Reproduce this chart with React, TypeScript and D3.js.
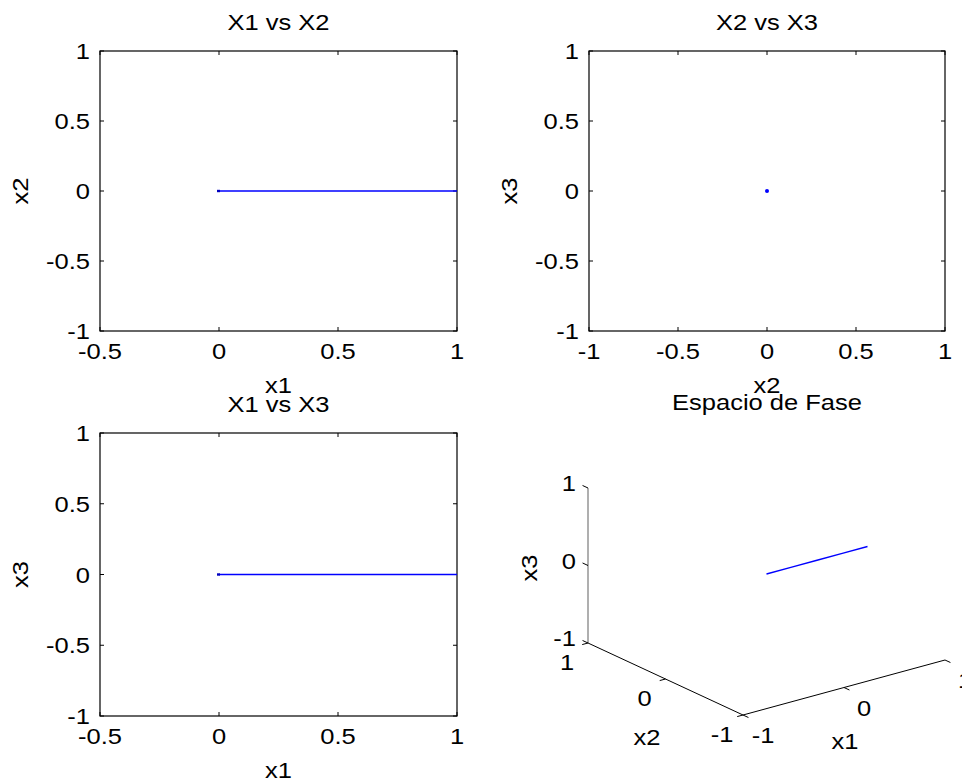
import React from "react";
import * as d3 from "d3";

// ---- data ----
const x1Values = [0, 0.25, 0.5, 0.75, 1];
const x2Values = [0, 0, 0, 0, 0];
const x3Values = [0, 0, 0, 0, 0];

const ticksX1 = [-0.5, 0, 0.5, 1];
const ticksX2 = [-1, -0.5, 0, 0.5, 1];
const ticksY = [-1, -0.5, 0, 0.5, 1];
const ticks3D = [-1, 0, 1];

const titles = ["X1 vs X2", "X2 vs X3", "X1 vs X3", "Espacio de Fase"];

const BLUE = "#0000ff";
const FONT = "'Liberation Sans', Arial, sans-serif";
const FS = 22;
const SX = 1.16;

function T({ x, y, anchor = "middle", rotate = 0, children }: any) {
  return (
    <g transform={`translate(${x},${y}) rotate(${rotate}) scale(${SX},1)`}>
      <text textAnchor={anchor} fontFamily={FONT} fontSize={FS} fill="#000">
        {children}
      </text>
    </g>
  );
}

function Plot2D({ box, xDomain, yDomain, xTicks, yTicks, title, xlabel, ylabel, xs, ys, dot }: any) {
  const [l, t, r, b] = box;
  const x = d3.scaleLinear().domain(xDomain).range([l, r]);
  const y = d3.scaleLinear().domain(yDomain).range([b, t]);
  const line = d3.line<number>().x((_, i) => x(xs[i])).y((_, i) => y(ys[i]));
  const tl = 4;
  return (
    <g>
      <rect x={l} y={t} width={r - l} height={b - t} fill="#fff" stroke="#000" strokeWidth={1.2} />
      {xTicks.map((v: number) => (
        <g key={"x" + v}>
          <line x1={x(v)} x2={x(v)} y1={b} y2={b - tl} stroke="#000" />
          <line x1={x(v)} x2={x(v)} y1={t} y2={t + tl} stroke="#000" />
          <T x={x(v)} y={b + 28}>{String(v)}</T>
        </g>
      ))}
      {yTicks.map((v: number) => (
        <g key={"y" + v}>
          <line x1={l} x2={l + tl} y1={y(v)} y2={y(v)} stroke="#000" />
          <line x1={r} x2={r - tl} y1={y(v)} y2={y(v)} stroke="#000" />
          <T x={l - 10} y={y(v) + 8} anchor="end">{String(v)}</T>
        </g>
      ))}
      {dot ? (
        <circle cx={x(xs[0])} cy={y(ys[0])} r={2} fill={BLUE} />
      ) : (
        <g>
          <path d={line(xs) || ""} fill="none" stroke={BLUE} strokeWidth={1.3} />
          <rect x={x(xs[0]) - 2} y={y(ys[0]) - 1.2} width={3} height={2.4} fill="#0000c0" />
        </g>
      )}
      <T x={(l + r) / 2} y={t - 21}>{title}</T>
      <T x={(l + r) / 2} y={b + 62}>{xlabel}</T>
      <T x={l - 72} y={(t + b) / 2} rotate={-90}>{ylabel}</T>
    </g>
  );
}

function Plot3D() {
  const origin = [743, 715];
  const v1 = [202, -55];
  const v2 = [-155, -72];
  const v3 = [0, -155];
  const s = d3.scaleLinear().domain([-1, 1]).range([0, 1]);
  const P = (a: number, bb: number, c: number) => [
    origin[0] + s(a) * v1[0] + s(bb) * v2[0] + s(c) * v3[0],
    origin[1] + s(a) * v1[1] + s(bb) * v2[1] + s(c) * v3[1],
  ];
  const norm = (v: number[], L: number) => {
    const n = Math.hypot(v[0], v[1]);
    return [(v[0] / n) * L, (v[1] / n) * L];
  };
  const tz = norm(v2, 6);
  const t2 = norm([-v1[0], -v1[1]], 6);
  const t1 = norm([-v2[0], -v2[1]], 6);
  const zA = P(-1, 1, -1), zB = P(-1, 1, 1);
  const aA = P(-1, -1, -1), aB = P(1, -1, -1);
  const bA = P(-1, -1, -1), bB = P(-1, 1, -1);
  const pts = x1Values.map((v, i) => P(v, x2Values[i], x3Values[i]));
  const path = d3.line()(pts as any) || "";
  return (
    <g>
      <line x1={zA[0]} y1={zA[1]} x2={zB[0]} y2={zB[1]} stroke="#7a7a7a" strokeWidth={1.2} />
      <line x1={aA[0]} y1={aA[1]} x2={aB[0]} y2={aB[1]} stroke="#000" strokeWidth={1} />
      <line x1={bA[0]} y1={bA[1]} x2={bB[0]} y2={bB[1]} stroke="#000" strokeWidth={1} />
      {ticks3D.map((v) => {
        const pz = P(-1, 1, v);
        const p1 = P(v, -1, -1);
        const p2 = P(-1, v, -1);
        return (
          <g key={v}>
            <line x1={pz[0]} y1={pz[1]} x2={pz[0] + tz[0]} y2={pz[1] + tz[1]} stroke="#000" />
            <line x1={p1[0]} y1={p1[1]} x2={p1[0] + t1[0]} y2={p1[1] + t1[1]} stroke="#000" />
            <line x1={p2[0]} y1={p2[1]} x2={p2[0] + t2[0]} y2={p2[1] + t2[1]} stroke="#000" />
            <T x={576} y={pz[1] + 3} anchor="end">{String(v)}</T>
            <T x={p1[0] + 20} y={p1[1] + 28}>{String(v)}</T>
            <T x={p2[0] - 21} y={p2[1] + 27}>{String(v)}</T>
          </g>
        );
      })}
      <path d={path} fill="none" stroke={BLUE} strokeWidth={1.3} />
      <T x={767} y={410}>{titles[3]}</T>
      <T x={647} y={745}>x2</T>
      <T x={845} y={749}>x1</T>
      <T x={537} y={568} rotate={-90}>x3</T>
    </g>
  );
}

export default function App() {
  return (
    <svg
      width={962}
      height={783}
      style={{ position: "absolute", left: 0, top: 0, display: "block", background: "#fff" }}
    >
      <rect width={962} height={783} fill="#fff" />
      <Plot2D box={[100, 51, 457, 331]} xDomain={[-0.5, 1]} yDomain={[-1, 1]} xTicks={ticksX1} yTicks={ticksY}
        title={titles[0]} xlabel="x1" ylabel="x2" xs={x1Values} ys={x2Values} />
      <Plot2D box={[589, 51, 945, 331]} xDomain={[-1, 1]} yDomain={[-1, 1]} xTicks={ticksX2} yTicks={ticksY}
        title={titles[1]} xlabel="x2" ylabel="x3" xs={x2Values} ys={x3Values} dot />
      <Plot2D box={[100, 433, 457, 716]} xDomain={[-0.5, 1]} yDomain={[-1, 1]} xTicks={ticksX1} yTicks={ticksY}
        title={titles[2]} xlabel="x1" ylabel="x3" xs={x1Values} ys={x3Values} />
      <Plot3D />
    </svg>
  );
}
